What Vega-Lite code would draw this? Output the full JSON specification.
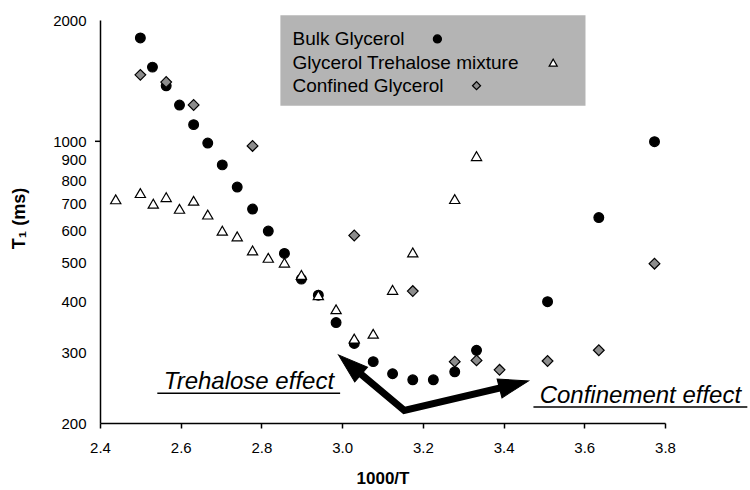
{
  "$schema": "https://vega.github.io/schema/vega-lite/v6.json",
  "width": 565,
  "height": 403,
  "autosize": {"type": "none"},
  "padding": {"left": 100, "top": 20, "right": 85, "bottom": 67},
  "background": "white",
  "config": {"view": {"stroke": null}, "font": "Liberation Sans"},
  "datasets": {
    "points": [
      {"series": "Bulk Glycerol", "x": 2.5, "T1": 1805},
      {"series": "Bulk Glycerol", "x": 2.53, "T1": 1528},
      {"series": "Bulk Glycerol", "x": 2.564, "T1": 1373},
      {"series": "Bulk Glycerol", "x": 2.597, "T1": 1230},
      {"series": "Bulk Glycerol", "x": 2.632, "T1": 1100},
      {"series": "Bulk Glycerol", "x": 2.667, "T1": 990},
      {"series": "Bulk Glycerol", "x": 2.703, "T1": 874},
      {"series": "Bulk Glycerol", "x": 2.74, "T1": 770},
      {"series": "Bulk Glycerol", "x": 2.778, "T1": 679},
      {"series": "Bulk Glycerol", "x": 2.817, "T1": 599},
      {"series": "Bulk Glycerol", "x": 2.857, "T1": 527},
      {"series": "Bulk Glycerol", "x": 2.899, "T1": 455},
      {"series": "Bulk Glycerol", "x": 2.941, "T1": 415},
      {"series": "Bulk Glycerol", "x": 2.985, "T1": 355},
      {"series": "Bulk Glycerol", "x": 3.03, "T1": 315},
      {"series": "Bulk Glycerol", "x": 3.077, "T1": 284},
      {"series": "Bulk Glycerol", "x": 3.125, "T1": 265},
      {"series": "Bulk Glycerol", "x": 3.175, "T1": 256},
      {"series": "Bulk Glycerol", "x": 3.226, "T1": 256},
      {"series": "Bulk Glycerol", "x": 3.279, "T1": 268},
      {"series": "Bulk Glycerol", "x": 3.333, "T1": 303},
      {"series": "Bulk Glycerol", "x": 3.509, "T1": 400},
      {"series": "Bulk Glycerol", "x": 3.636, "T1": 647},
      {"series": "Bulk Glycerol", "x": 3.774, "T1": 998},
      {"series": "Glycerol Trehalose mixture", "x": 2.439, "T1": 718},
      {"series": "Glycerol Trehalose mixture", "x": 2.5, "T1": 744},
      {"series": "Glycerol Trehalose mixture", "x": 2.532, "T1": 700},
      {"series": "Glycerol Trehalose mixture", "x": 2.564, "T1": 727},
      {"series": "Glycerol Trehalose mixture", "x": 2.597, "T1": 680},
      {"series": "Glycerol Trehalose mixture", "x": 2.632, "T1": 712},
      {"series": "Glycerol Trehalose mixture", "x": 2.667, "T1": 658},
      {"series": "Glycerol Trehalose mixture", "x": 2.703, "T1": 600},
      {"series": "Glycerol Trehalose mixture", "x": 2.74, "T1": 581},
      {"series": "Glycerol Trehalose mixture", "x": 2.778, "T1": 536},
      {"series": "Glycerol Trehalose mixture", "x": 2.817, "T1": 514},
      {"series": "Glycerol Trehalose mixture", "x": 2.857, "T1": 500},
      {"series": "Glycerol Trehalose mixture", "x": 2.899, "T1": 466},
      {"series": "Glycerol Trehalose mixture", "x": 2.941, "T1": 415},
      {"series": "Glycerol Trehalose mixture", "x": 2.985, "T1": 383},
      {"series": "Glycerol Trehalose mixture", "x": 3.03, "T1": 324},
      {"series": "Glycerol Trehalose mixture", "x": 3.077, "T1": 333},
      {"series": "Glycerol Trehalose mixture", "x": 3.125, "T1": 428},
      {"series": "Glycerol Trehalose mixture", "x": 3.175, "T1": 530},
      {"series": "Glycerol Trehalose mixture", "x": 3.279, "T1": 719},
      {"series": "Glycerol Trehalose mixture", "x": 3.333, "T1": 919},
      {"series": "Confined Glycerol", "x": 2.5, "T1": 1462},
      {"series": "Confined Glycerol", "x": 2.564, "T1": 1403},
      {"series": "Confined Glycerol", "x": 2.632, "T1": 1231},
      {"series": "Confined Glycerol", "x": 2.778, "T1": 974},
      {"series": "Confined Glycerol", "x": 3.03, "T1": 584},
      {"series": "Confined Glycerol", "x": 3.175, "T1": 425},
      {"series": "Confined Glycerol", "x": 3.279, "T1": 284},
      {"series": "Confined Glycerol", "x": 3.333, "T1": 286},
      {"series": "Confined Glycerol", "x": 3.39, "T1": 271},
      {"series": "Confined Glycerol", "x": 3.509, "T1": 285},
      {"series": "Confined Glycerol", "x": 3.636, "T1": 303},
      {"series": "Confined Glycerol", "x": 3.774, "T1": 497}
    ],
    "arrow": [
      {"x": 3.019, "T1": 279, "seg": 1, "head": "Trehalose"},
      {"x": 3.154, "T1": 215, "seg": 2, "head": "none"},
      {"x": 3.426, "T1": 249, "seg": 3, "head": "Confinement"}
    ],
    "labels": [
      {"x": 2.769, "T1": 243, "xa": 2.542, "xb": 2.995, "under": 237, "text": "Trehalose effect"},
      {"x": 3.739, "T1": 224, "xa": 3.474, "xb": 4.004, "under": 219, "text": "Confinement effect"}
    ],
    "ytick": [
      {"x": 2.3876, "xb": 2.4, "T1": 1000}
    ],
    "legendbox": [
      {"x": 2.847, "xb": 3.603, "T1": 2054, "yb": 1226}
    ],
    "legend": [
      {"series": "Bulk Glycerol", "x": 2.877, "sx": 3.236, "T1": 1795},
      {"series": "Glycerol Trehalose mixture", "x": 2.877, "sx": 3.523, "T1": 1568},
      {"series": "Confined Glycerol", "x": 2.877, "sx": 3.333, "T1": 1374}
    ]
  },
  "encoding": {
    "x": {
      "field": "x", "type": "quantitative",
      "scale": {"domain": [2.4, 3.8], "nice": false, "zero": false},
      "axis": {
        "title": "1000/T", "values": [2.4, 2.6, 2.8, 3.0, 3.2, 3.4, 3.6, 3.8], "format": ".1f",
        "grid": false, "domainColor": "#000000", "domainWidth": 1.5, "tickColor": "#000000", "tickWidth": 1.5, "tickSize": 5,
        "labelFont": "Liberation Sans", "labelFontSize": 15, "labelColor": "#000000", "labelPadding": 12, "labelFlush": false, "labelOverlap": false,
        "titleFont": "Liberation Sans", "titleFontSize": 17, "titleFontWeight": "bold", "titleColor": "#000000", "titleY": 60, "titleBaseline": "alphabetic"
      }
    },
    "y": {
      "field": "T1", "type": "quantitative",
      "scale": {"type": "log", "domain": [200, 2000], "nice": false},
      "axis": {
        "title": "T₁ (ms)", "values": [200, 300, 400, 500, 600, 700, 800, 900, 1000, 2000], "format": "d",
        "grid": false, "domainColor": "#000000", "domainWidth": 1.5, "ticks": true, "tickSize": 0, "tickWidth": 0,
        "labelFont": "Liberation Sans", "labelFontSize": 15, "labelColor": "#000000", "labelPadding": 14, "labelOverlap": false,
        "titleFont": "Liberation Sans", "titleFontSize": 18, "titleFontWeight": "bold", "titleColor": "#000000",
        "titleX": -76, "titleY": 198, "titleAngle": 270, "titleBaseline": "alphabetic", "titleAlign": "center"
      }
    }
  },
  "layer": [
    {
      "data": {"name": "points"},
      "mark": {"type": "point", "filled": true, "stroke": "#000000", "strokeWidth": 1.2, "opacity": 1},
      "encoding": {
        "shape": {
          "field": "series", "type": "nominal",
          "scale": {"domain": ["Bulk Glycerol", "Glycerol Trehalose mixture", "Confined Glycerol"], "range": ["circle", "triangle-up", "diamond"]},
          "legend": null
        },
        "fill": {
          "field": "series", "type": "nominal",
          "scale": {"domain": ["Bulk Glycerol", "Glycerol Trehalose mixture", "Confined Glycerol"], "range": ["#000000", "#ffffff", "#8c8c8c"]},
          "legend": null
        },
        "size": {
          "field": "series", "type": "nominal",
          "scale": {"domain": ["Bulk Glycerol", "Glycerol Trehalose mixture", "Confined Glycerol"], "range": [95, 115, 150]},
          "legend": null
        }
      }
    },
    {
      "data": {"name": "ytick"},
      "mark": {"type": "rule", "stroke": "#000000", "strokeWidth": 1.5},
      "encoding": {
        "x2": {"field": "xb"}
      }
    },
    {
      "data": {"name": "arrow"},
      "mark": {"type": "line", "stroke": "#000000", "strokeWidth": 7, "strokeJoin": "miter", "strokeCap": "butt"},
      "encoding": {
        "order": {"field": "seg", "type": "quantitative"}
      }
    },
    {
      "data": {"name": "arrow"},
      "transform": [{"filter": "datum.head == 'Trehalose'"}],
      "mark": {"type": "point", "shape": "M0,-1L0.65,1L-0.65,1Z", "filled": true, "fill": "#000000", "stroke": "#000000", "strokeWidth": 1, "opacity": 1, "size": 900, "angle": 311}
    },
    {
      "data": {"name": "arrow"},
      "transform": [{"filter": "datum.head == 'Confinement'"}],
      "mark": {"type": "point", "shape": "M0,-1L0.65,1L-0.65,1Z", "filled": true, "fill": "#000000", "stroke": "#000000", "strokeWidth": 1, "opacity": 1, "size": 900, "angle": 75.5}
    },
    {
      "data": {"name": "labels"},
      "mark": {"type": "text", "font": "Liberation Sans", "fontStyle": "italic", "fontSize": 24, "align": "center", "baseline": "alphabetic", "color": "#000000"},
      "encoding": {
        "text": {"field": "text"}
      }
    },
    {
      "data": {"name": "labels"},
      "mark": {"type": "rule", "stroke": "#000000", "strokeWidth": 1.5},
      "encoding": {
        "x": {"field": "xa", "type": "quantitative"},
        "x2": {"field": "xb"},
        "y": {"field": "under", "type": "quantitative"}
      }
    },
    {
      "data": {"name": "legendbox"},
      "mark": {"type": "rect", "fill": "#b4b4b4", "stroke": null},
      "encoding": {
        "x2": {"field": "xb"},
        "y2": {"field": "yb"}
      }
    },
    {
      "data": {"name": "legend"},
      "mark": {"type": "text", "font": "Liberation Sans", "fontSize": 19, "align": "left", "baseline": "middle", "color": "#000000"},
      "encoding": {
        "text": {"field": "series"}
      }
    },
    {
      "data": {"name": "legend"},
      "mark": {"type": "point", "filled": true, "stroke": "#000000", "strokeWidth": 1.2, "opacity": 1, "size": 65},
      "encoding": {
        "x": {"field": "sx", "type": "quantitative"},
        "shape": {"field": "series", "type": "nominal", "legend": null},
        "fill": {"field": "series", "type": "nominal", "legend": null}
      }
    }
  ]
}
